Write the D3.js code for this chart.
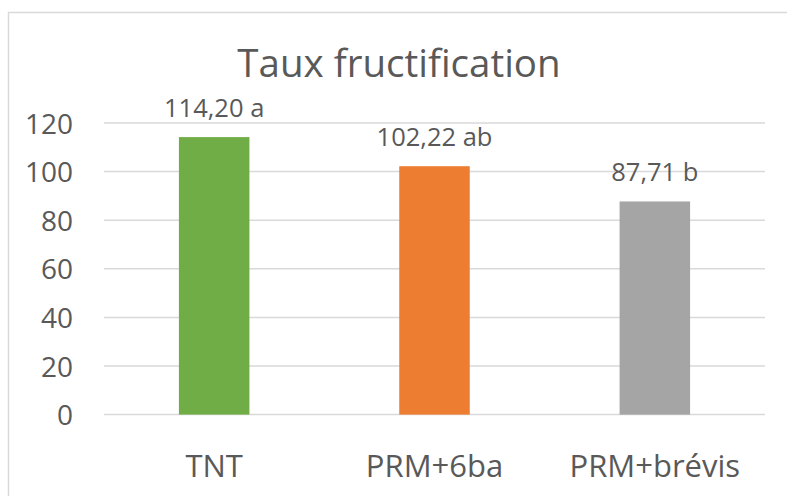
<!DOCTYPE html>
<html>
<head>
<meta charset="utf-8">
<script src="https://cdn.jsdelivr.net/npm/d3@7"></script>
<style>
  body { margin: 0; background: #fff; }
  svg text { font-family: 'Open Sans', sans-serif; fill: #595959; }
</style>
</head>
<body>
<div id="container"></div>
<script>
// chart data
const categories = ['TNT', 'PRM+6ba', 'PRM+brévis'];
const values = [114.20, 102.22, 87.71];
const letters = ['a', 'ab', 'b'];
const colors = ['#70AD47', '#ED7D31', '#A5A5A5'];
const yTicks = [0, 20, 40, 60, 80, 100, 120];

const width = 787, height = 496;
const margin = { top: 123, left: 104, right: 22, bottom: 81 };

const svg = d3.select('#container')
  .append('svg')
  .attr('width', width)
  .attr('height', height);

// outer chart frame (runs off the picture right and bottom)
svg.append('rect')
  .attr('x', 8.5).attr('y', 12.5)
  .attr('width', 900).attr('height', 600)
  .attr('fill', 'none')
  .attr('stroke', '#d9d9d9')
  .attr('stroke-width', 1.5);

const x = d3.scaleBand()
  .domain(categories)
  .range([margin.left, width - margin.right])
  .paddingInner(0.68)
  .paddingOuter(0.34);

const y = d3.scaleLinear()
  .domain([0, 120])
  .range([height - margin.bottom - 0.4, margin.top]);

// gridlines
svg.append('g')
  .selectAll('line')
  .data(yTicks)
  .enter()
  .append('line')
  .attr('x1', margin.left)
  .attr('x2', width - margin.right)
  .attr('y1', d => y(d))
  .attr('y2', d => y(d))
  .attr('stroke', '#d9d9d9')
  .attr('stroke-width', 1.5);

// y axis labels
const axisY = d3.axisLeft(y).tickValues(yTicks).tickSize(0).tickPadding(31);
const gy = svg.append('g')
  .attr('transform', `translate(${margin.left}, 0)`)
  .call(axisY);
gy.select('.domain').remove();
gy.selectAll('text')
  .style('font-size', '28px')
  .attr('dy', '0.36em')
  .attr('fill', '#595959');

// bars
svg.append('g')
  .selectAll('rect')
  .data(values)
  .enter()
  .append('rect')
  .attr('x', (d, i) => x(categories[i]))
  .attr('y', d => y(d))
  .attr('width', x.bandwidth())
  .attr('height', d => y(0) - y(d))
  .attr('fill', (d, i) => colors[i]);

// value labels
svg.append('g')
  .selectAll('text')
  .data(values)
  .enter()
  .append('text')
  .attr('x', (d, i) => x(categories[i]) + x.bandwidth() / 2)
  .attr('y', d => y(d) - 20)
  .attr('text-anchor', 'middle')
  .style('font-size', '25.5px')
  .text((d, i) => d.toFixed(2).replace('.', ',') + ' ' + letters[i]);

// category labels
const axisX = d3.axisBottom(x).tickSize(0).tickPadding(40);
const gx = svg.append('g')
  .attr('transform', `translate(0, ${y(0)})`)
  .call(axisX);
gx.select('.domain').remove();
gx.selectAll('text')
  .style('font-size', '31px')
  .attr('fill', '#595959');

// title
svg.append('text')
  .attr('x', 399)
  .attr('y', 77)
  .attr('text-anchor', 'middle')
  .style('font-size', '38.5px')
  .text('Taux fructification');
</script>
</body>
</html>
